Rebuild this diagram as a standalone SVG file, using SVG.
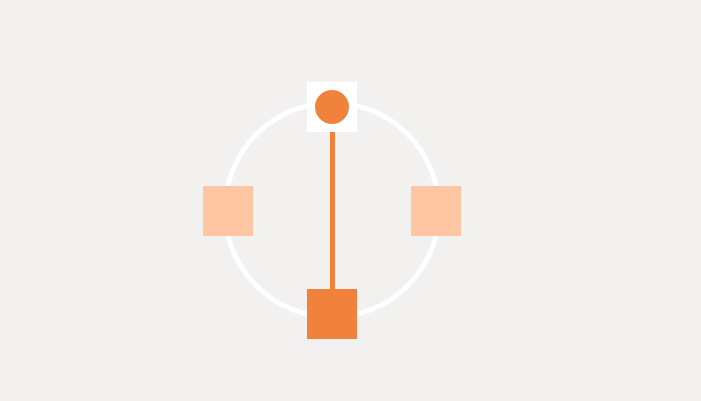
<svg xmlns="http://www.w3.org/2000/svg" width="701" height="401" viewBox="0 0 701 401">
<style>
.ring{fill:none;stroke:#ffffff;stroke-width:5}
.link{stroke:#f0823c;stroke-width:5}
.dark{fill:#f0823c}
.light{fill:#fdc5a1}
.white{fill:#ffffff}
</style>
<rect x="0" y="0" width="701" height="401" fill="#f2f1ef"/>
<g id="ring"><circle class="ring" cx="332" cy="210" r="107"/></g>
<g id="connectors"><line class="link" x1="332.5" y1="130" x2="332.5" y2="291"/></g>
<g id="node-top"><rect class="white" x="307" y="82" width="50" height="50"/><circle class="dark" cx="332" cy="107" r="17"/></g>
<g id="node-bottom"><rect class="dark" x="307" y="289" width="50" height="50"/></g>
<g id="node-left"><rect class="light" x="203" y="186" width="50" height="50"/></g>
<g id="node-right"><rect class="light" x="411" y="186" width="50" height="50"/></g>
</svg>
